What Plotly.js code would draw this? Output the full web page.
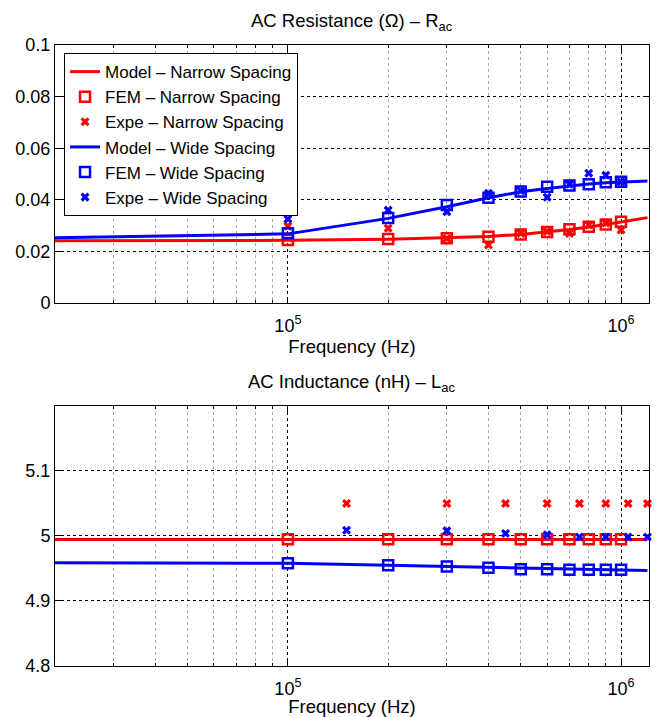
<!DOCTYPE html>
<html><head><meta charset="utf-8">
<script src="https://cdn.plot.ly/plotly-3.0.1.min.js"></script>
<style>body{margin:0;background:#fff}</style>
</head><body><div id="chart" style="width:657px;height:717px"></div>
<script>
// ---- data ----
const freqModel = [2e4, 5e4, 1e5, 2e5, 3e5, 4e5, 5e5, 6e5, 7e5, 8e5, 9e5, 1e6, 1.2e6];
const freqFem = [1e5, 2e5, 3e5, 4e5, 5e5, 6e5, 7e5, 8e5, 9e5, 1e6];
const freqExpeR = [1e5, 2e5, 3e5, 4e5, 5e5, 6e5, 7e5, 8e5, 9e5, 1e6];
const freqExpeL = [1.5e5, 3e5, 4.5e5, 6e5, 7.5e5, 9e5, 1.05e6, 1.2e6];

const rModelNarrow = [0.0241, 0.0242, 0.0243, 0.0247, 0.0252, 0.0258, 0.0266, 0.0275, 0.0285, 0.0295, 0.0304, 0.0314, 0.0331];
const rModelWide   = [0.0253, 0.0260, 0.0268, 0.0328, 0.0373, 0.0408, 0.0431, 0.0444, 0.0454, 0.0461, 0.0466, 0.0469, 0.0473];
const rFemNarrow = [0.0244, 0.0248, 0.0251, 0.0257, 0.0266, 0.0275, 0.0286, 0.0296, 0.0304, 0.0315];
const rFemWide   = [0.0270, 0.0330, 0.0380, 0.0408, 0.0432, 0.0451, 0.0455, 0.0460, 0.0468, 0.0470];
const rExpeNarrow = [0.0298, 0.0290, 0.0250, 0.0225, 0.0270, 0.0277, 0.0270, 0.0302, 0.0310, 0.0283];
const rExpeWide   = [0.0326, 0.0360, 0.0354, 0.0425, 0.0435, 0.0410, 0.0460, 0.0503, 0.0495, 0.0470];

const lModelNarrow = [4.9945, 4.9945, 4.9945, 4.9945, 4.9945, 4.9945, 4.9945, 4.9945, 4.9945, 4.9945, 4.9945, 4.9945, 4.9945];
const lModelWide   = [4.959, 4.9585, 4.958, 4.955, 4.953, 4.951, 4.950, 4.949, 4.9485, 4.948, 4.9478, 4.9475, 4.947];
const lFemNarrow = [4.995, 4.995, 4.995, 4.995, 4.995, 4.995, 4.995, 4.995, 4.995, 4.995];
const lFemWide   = [4.958, 4.955, 4.953, 4.951, 4.949, 4.949, 4.948, 4.948, 4.948, 4.948];
const lExpeNarrow = [5.05, 5.05, 5.05, 5.05, 5.05, 5.05, 5.05, 5.05];
const lExpeWide   = [5.009, 5.008, 5.004, 5.002, 4.9985, 4.9985, 4.9985, 4.9985];

const names = ['Model \u2013 Narrow Spacing', 'FEM \u2013 Narrow Spacing', 'Expe \u2013 Narrow Spacing',
               'Model \u2013 Wide Spacing', 'FEM \u2013 Wide Spacing', 'Expe \u2013 Wide Spacing'];
const majorTicks = [1e5, 1e6];
const majorText = ['10<sup>5</sup>', '10<sup>6</sup>'];
const minorTicks = [2e4,3e4,4e4,5e4,6e4,7e4,8e4,9e4,2e5,3e5,4e5,5e5,6e5,7e5,8e5,9e5];
const rTicks = [0, 0.02, 0.04, 0.06, 0.08, 0.1];
const rTickText = ['0', '0.02', '0.04', '0.06', '0.08', '0.1'];
const lTicks = [4.8, 4.9, 5, 5.1];
const lTickText = ['4.8', '4.9', '5', '5.1'];

// ---- styles ----
const RED = '#ff0000', BLUE = '#0000ff';
function line(x, y, c, name, xa, ya, show) {
  return {x, y, type:'scatter', mode:'lines', name, showlegend:show, xaxis:xa, yaxis:ya,
          line:{color:c, width:3}};
}
function sq(x, y, c, name, xa, ya, show) {
  return {x, y, type:'scatter', mode:'markers', name, showlegend:show, xaxis:xa, yaxis:ya, cliponaxis:false,
          marker:{symbol:'square-open', size:10, color:c, line:{width:2.5, color:c}}};
}
function cross(x, y, c, name, xa, ya, show) {
  return {x, y, type:'scatter', mode:'markers', name, showlegend:show, xaxis:xa, yaxis:ya, cliponaxis:false,
          marker:{symbol:'x', size:8, color:c, line:{width:0}}};
}

const traces = [
  line(freqModel, rModelNarrow, RED, names[0], 'x', 'y', true),
  sq(freqFem, rFemNarrow, RED, names[1], 'x', 'y', true),
  cross(freqExpeR, rExpeNarrow, RED, names[2], 'x', 'y', true),
  line(freqModel, rModelWide, BLUE, names[3], 'x', 'y', true),
  sq(freqFem, rFemWide, BLUE, names[4], 'x', 'y', true),
  cross(freqExpeR, rExpeWide, BLUE, names[5], 'x', 'y', true),
  line(freqModel, lModelNarrow, RED, names[0], 'x2', 'y2', false),
  sq(freqFem, lFemNarrow, RED, names[1], 'x2', 'y2', false),
  cross(freqExpeL, lExpeNarrow, RED, names[2], 'x2', 'y2', false),
  line(freqModel, lModelWide, BLUE, names[3], 'x2', 'y2', false),
  sq(freqFem, lFemWide, BLUE, names[4], 'x2', 'y2', false),
  cross(freqExpeL, lExpeWide, BLUE, names[5], 'x2', 'y2', false)
];

const FAM = 'Liberation Sans, Arial, sans-serif';
const FONT = {family:FAM, size:18, color:'#000'};
const TFONT = {family:FAM, size:18.5, color:'#000'};
function xAxis(anchor) {
  return {type:'log', range:[Math.log10(2e4), Math.log10(1.213e6)], anchor, domain:[0,1],
    tickmode:'array', tickvals:majorTicks, ticktext:majorText,
    ticks:'inside', ticklen:6, tickcolor:'#000', tickwidth:1, ticklabelstandoff:6,
    showline:true, linecolor:'#000', linewidth:1, mirror:'ticks',
    showgrid:true, gridcolor:'#000', griddash:'dot', gridwidth:1,
    minor:{tickmode:'array', tickvals:minorTicks, ticks:'inside', ticklen:3, tickcolor:'#000',
           showgrid:true, gridcolor:'#aaa', griddash:'dot', gridwidth:1},
    zeroline:false, tickfont:FONT,
    title:{text:'Frequency (Hz)', font:TFONT, standoff:0}};
}
function yAxis(dom, range, tv, tt, anchor) {
  return {domain:dom, range, tickmode:'array', tickvals:tv, ticktext:tt, anchor,
    ticks:'inside', ticklen:6, tickcolor:'#000', showline:true, linecolor:'#000', linewidth:1, mirror:'ticks',
    showgrid:true, gridcolor:'#000', griddash:'dot', zeroline:false, tickfont:FONT};
}
const layout = {
  width:657, height:717, paper_bgcolor:'#fff', plot_bgcolor:'#fff',
  margin:{l:55, r:8, t:45, b:51},
  font:FONT,
  xaxis: xAxis('y'),
  yaxis: yAxis([0.5845,1], [0,0.1], rTicks, rTickText, 'x'),
  xaxis2: xAxis('y2'),
  yaxis2: yAxis([0,0.4187], [4.8,5.2], lTicks, lTickText, 'x2'),
  legend:{x:0.0152, y:0.987, xanchor:'left', yanchor:'top', bgcolor:'#fff', bordercolor:'#000', borderwidth:1,
    font:{family:FAM, size:17, color:'#000'}, tracegroupgap:0},
  showlegend:true,
  annotations:[
    {text:'AC Resistance (\u03a9) \u2013 R<sub>ac</sub>', xref:'paper', yref:'paper', x:0.5, y:1, yshift:9,
     xanchor:'center', yanchor:'bottom', showarrow:false, font:TFONT},
    {text:'AC Inductance (nH) \u2013 L<sub>ac</sub>', xref:'paper', yref:'paper', x:0.5, y:0.4187, yshift:9,
     xanchor:'center', yanchor:'bottom', showarrow:false, font:TFONT}
  ]
};
Plotly.newPlot('chart', traces, layout, {displayModeBar:false, staticPlot:true});
</script></body></html>
